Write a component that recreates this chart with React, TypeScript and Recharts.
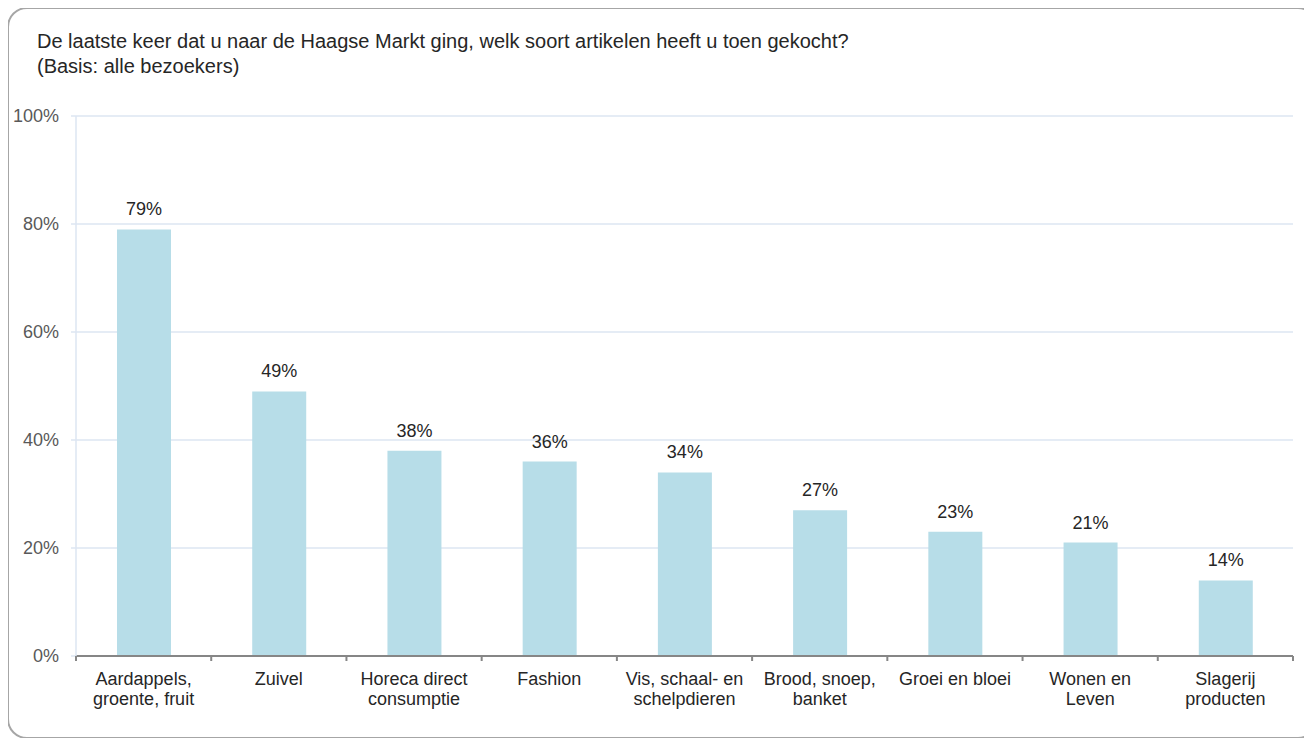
import { BarChart, Bar, CartesianGrid, LabelList, XAxis, YAxis } from "recharts";

const categories = [
  "Aardappels,\ngroente, fruit",
  "Zuivel",
  "Horeca direct\nconsumptie",
  "Fashion",
  "Vis, schaal- en\nschelpdieren",
  "Brood, snoep,\nbanket",
  "Groei en bloei",
  "Wonen en\nLeven",
  "Slagerij\nproducten",
];
const percentages = [79, 49, 38, 36, 34, 27, 23, 21, 14];
const yTicks = [0, 20, 40, 60, 80, 100];

const data = categories.map((name, i) => ({ name, value: percentages[i] }));

const FONT = '"Liberation Sans", Arial, sans-serif';
const AXIS_GREY = "#868686";

// label under each bar, plus the small tick marks on the category boundaries
const CategoryTick = ({ x, y, payload, index }: any) => {
  const lines = String(payload.value).split("\n");
  const half = typeof payload.offset === "number" ? payload.offset : 0;
  const isLast = index === categories.length - 1;
  return (
    <g>
      {half > 0 && (
        <line x1={x - half} x2={x - half} y1={y} y2={y + 5} stroke={AXIS_GREY} strokeWidth={2} />
      )}
      {half > 0 && isLast && (
        <line x1={x + half} x2={x + half} y1={y} y2={y + 5} stroke={AXIS_GREY} strokeWidth={2} />
      )}
      <text x={x} y={y} textAnchor="middle" fill="#262626" fontSize={18} fontFamily={FONT}>
        {lines.map((line, i) => (
          <tspan key={i} x={x} dy={i === 0 ? 29 : 20}>
            {line}
          </tspan>
        ))}
      </text>
    </g>
  );
};

const App = () => {
  return (
    <div
      style={{
        position: "relative",
        width: 1304,
        height: 730,
        overflow: "hidden",
        fontFamily: FONT,
      }}
    >
      <div
        style={{
          position: "absolute",
          left: -1,
          top: -1,
          width: 1311,
          height: 732,
          boxSizing: "border-box",
          border: "2px solid #a6a6a6",
          borderRadius: 20,
        }}
      />
      <div
        style={{
          position: "absolute",
          left: 29,
          top: 21,
          fontSize: 20,
          lineHeight: "24.5px",
          color: "#262626",
          whiteSpace: "nowrap",
        }}
      >
        De laatste keer dat u naar de Haagse Markt ging, welk soort artikelen heeft u toen gekocht?
        <br />
        (Basis: alle bezoekers)
      </div>
      <div style={{ position: "absolute", left: 0, top: 0 }}>
        <BarChart
          width={1296}
          height={728}
          data={data}
          margin={{ top: 108, right: 11, bottom: 10, left: 8 }}
        >
          <CartesianGrid vertical={false} stroke="#dce6f2" strokeWidth={1.5} />
          <XAxis
            dataKey="name"
            height={70}
            axisLine={{ stroke: AXIS_GREY, strokeWidth: 2 }}
            tickLine={false}
            tickSize={0}
            tickMargin={0}
            interval={0}
            tick={<CategoryTick />}
          />
          <YAxis
            domain={[0, 100]}
            ticks={yTicks}
            width={60}
            tickSize={5}
            tickMargin={12}
            tickFormatter={(v: number) => `${v}%`}
            axisLine={{ stroke: "#dce6f2", strokeWidth: 1.5 }}
            tickLine={{ stroke: "#dce6f2", strokeWidth: 1.5 }}
            tick={{ fill: "#595959", fontSize: 18, fontFamily: FONT }}
          />
          <Bar dataKey="value" fill="#b7dde8" barSize={54} isAnimationActive={false}>
            <LabelList
              dataKey="value"
              position="top"
              offset={14}
              formatter={(v: any) => `${v}%`}
              fill="#262626"
              fontSize={18}
              fontFamily={FONT}
            />
          </Bar>
        </BarChart>
      </div>
    </div>
  );
};

export default App;
